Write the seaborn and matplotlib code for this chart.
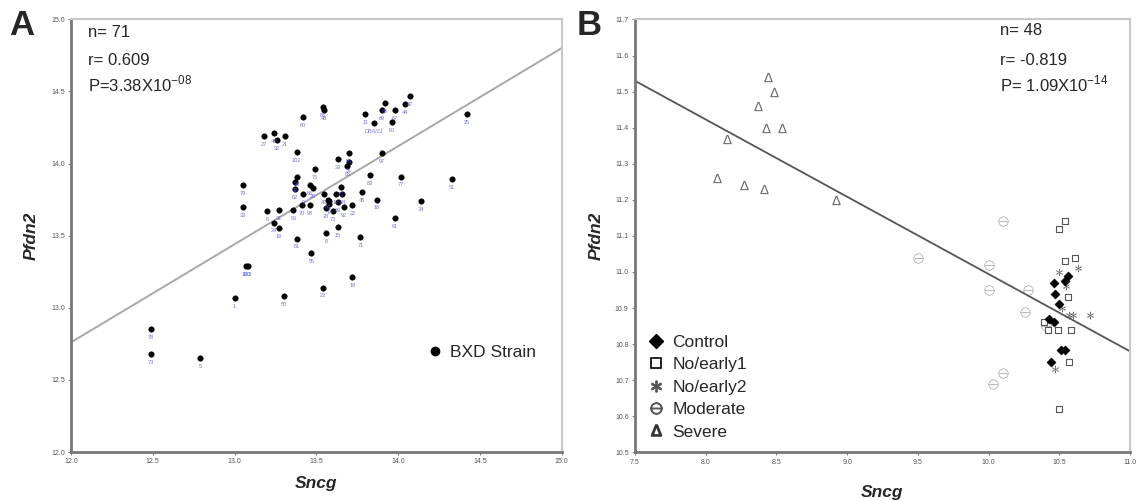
import numpy as np
import pandas as pd
import matplotlib
matplotlib.use("Agg")
import matplotlib.pyplot as plt
from matplotlib.lines import Line2D
import seaborn as sns

sns.set_theme(style="white")
plt.rcParams['font.family'] = ['Liberation Sans', 'DejaVu Sans']
plt.rcParams['mathtext.fontset'] = 'custom'
plt.rcParams['mathtext.rm'] = 'Liberation Sans'

# ---------------- Panel A data ----------------
a_sncg = [14.07, 14.42, 13.92, 14.04, 13.90, 13.98, 13.80, 13.85, 13.96, 13.54,
          13.55, 13.42, 13.18, 13.24, 13.26, 13.31, 13.38, 13.63, 13.70, 13.70,
          13.69, 13.90, 13.49, 13.83, 14.02, 14.33, 13.05, 13.38, 13.37, 13.37,
          13.42, 13.46, 13.48, 13.65, 13.55, 13.57, 13.62, 13.66, 13.58, 13.56,
          13.63, 13.67, 13.72, 13.78, 13.87, 14.14, 13.46, 13.41, 13.36, 13.05,
          13.20, 13.27, 13.24, 13.27, 13.98, 13.63, 13.56, 13.38, 13.77, 13.47,
          13.07, 13.08, 13.00, 13.30, 13.54, 13.72, 12.49, 12.49, 12.79, 13.58,
          13.60]
a_pfdn2 = [14.47, 14.34, 14.42, 14.41, 14.37, 14.37, 14.34, 14.28, 14.29, 14.39,
           14.37, 14.32, 14.19, 14.21, 14.16, 14.19, 14.08, 14.03, 14.07, 14.01,
           13.98, 14.07, 13.96, 13.92, 13.91, 13.89, 13.85, 13.91, 13.87, 13.82,
           13.79, 13.85, 13.83, 13.84, 13.79, 13.75, 13.79, 13.79, 13.72, 13.69,
           13.73, 13.70, 13.71, 13.80, 13.75, 13.74, 13.71, 13.71, 13.68, 13.70,
           13.67, 13.68, 13.59, 13.55, 13.62, 13.56, 13.52, 13.48, 13.49, 13.38,
           13.29, 13.29, 13.07, 13.08, 13.14, 13.21, 12.85, 12.68, 12.65, 13.74,
           13.67]
a_strain = ['87', '25', '65', '44', '69', '67', '11', 'DBA/2J', '90', '68',
            '48', '60', '27', '40', '32', '21', '102', '39', '56', '51',
            '85', '97', '75', '83', '77', '51', '79', '38', '42', '62',
            '9', '86', '29', '13', '43', '66', '12', '84', '14', '28',
            '89', '92', '22', '45', '16', '34', '98', '70', '96', '33',
            '6', '31', '24', '19', '61', '15', '8', '61', '71', '55',
            '100', '103', '1', '50', '23', '18', '78', '73', '5', '2',
            '73']
a_line_x = [12.0, 15.0]
a_line_y = [12.76, 14.80]

# ---------------- Panel B data ----------------
b_groups = ['Control', 'No/early1', 'No/early2', 'Moderate', 'Severe']
b_control_x = [10.46, 10.47, 10.50, 10.43, 10.46, 10.51, 10.54, 10.44, 10.56, 10.54]
b_control_y = [10.97, 10.94, 10.91, 10.87, 10.86, 10.785, 10.785, 10.75, 10.99, 10.975]
b_early1_x = [10.50, 10.54, 10.54, 10.61, 10.56, 10.39, 10.42, 10.49, 10.58, 10.57, 10.50]
b_early1_y = [11.12, 11.14, 11.03, 11.04, 10.93, 10.86, 10.84, 10.84, 10.84, 10.75, 10.62]
b_early2_x = [10.50, 10.63, 10.60, 10.72, 10.47, 10.55, 10.52, 10.57]
b_early2_y = [11.00, 11.01, 10.88, 10.88, 10.73, 10.96, 10.90, 10.88]
b_moderate_x = [9.50, 10.00, 10.00, 10.28, 10.26, 10.10, 10.03, 10.10, 10.41]
b_moderate_y = [11.04, 11.02, 10.95, 10.95, 10.89, 10.72, 10.69, 11.14, 10.85]
b_severe_x = [8.44, 8.48, 8.37, 8.43, 8.54, 8.15, 8.08, 8.27, 8.41, 8.92]
b_severe_y = [11.54, 11.50, 11.46, 11.40, 11.40, 11.37, 11.26, 11.24, 11.23, 11.20]
b_line_x = [7.5, 11.0]
b_line_y = [11.53, 10.78]

a_xticks = [12.0, 12.5, 13.0, 13.5, 14.0, 14.5, 15.0]
a_yticks = [12.0, 12.5, 13.0, 13.5, 14.0, 14.5, 15.0]
b_xticks = [7.5, 8.0, 8.5, 9.0, 9.5, 10.0, 10.5, 11.0]
b_yticks = [10.5, 10.6, 10.7, 10.8, 10.9, 11.0, 11.1, 11.2, 11.3, 11.4, 11.5, 11.6, 11.7]

fig = plt.figure(figsize=(11.41, 5.01), dpi=100)
axA = fig.add_axes([0.0622, 0.0978, 0.4300, 0.8637])
axB = fig.add_axes([0.5565, 0.0972, 0.4338, 0.8639])


def style_axes(ax, xticks, yticks):
    ax.set_xticks(xticks)
    ax.set_yticks(yticks)
    ax.set_xticklabels([f"{t:.1f}" for t in xticks])
    ax.set_yticklabels([f"{t:.1f}" for t in yticks])
    ax.tick_params(axis='both', labelsize=5, colors='#666666', length=2.5,
                   width=0.6, direction='out', pad=2, left=True, bottom=True)
    for lab in ax.get_xticklabels() + ax.get_yticklabels():
        lab.set_color('#555555')
    for s in ['left', 'bottom']:
        ax.spines[s].set_color('#777777')
        ax.spines[s].set_linewidth(2.0)
    for s in ['top', 'right']:
        ax.spines[s].set_color('#c8c8c8')
        ax.spines[s].set_linewidth(1.5)
    ax.grid(False)


# ---- Panel A ----
dfA = pd.DataFrame({'Sncg': a_sncg, 'Pfdn2': a_pfdn2, 'strain': a_strain})
sns.lineplot(x=a_line_x, y=a_line_y, ax=axA, color='#a8a8a8', linewidth=1.4)
sns.scatterplot(data=dfA, x='Sncg', y='Pfdn2', ax=axA, color='black', s=16,
                edgecolor='black', linewidth=0.3, zorder=3)
for xv, yv, lab in zip(a_sncg, a_pfdn2, a_strain):
    axA.annotate(lab, (xv, yv), xytext=(0, -6), textcoords='offset points',
                 ha='center', va='center', fontsize=4, color='#5050e0', alpha=0.8)
axA.set_xlim(12.0, 15.0)
axA.set_ylim(12.0, 15.0)
style_axes(axA, a_xticks, a_yticks)
axA.set_xlabel('Sncg', fontsize=12.5, fontweight='bold', fontstyle='italic', labelpad=8)
axA.set_ylabel('Pfdn2', fontsize=12.5, fontweight='bold', fontstyle='italic', labelpad=9)
axA.text(0.034, 0.960, 'n= 71', transform=axA.transAxes, fontsize=12, va='baseline')
axA.text(0.034, 0.894, 'r= 0.609', transform=axA.transAxes, fontsize=12, va='baseline')
axA.text(0.034, 0.834, r'P=3.38X10$^{-08}$', transform=axA.transAxes, fontsize=12, va='baseline')
hA = [Line2D([0], [0], marker='o', color='none', markerfacecolor='black',
             markeredgecolor='black', markersize=6, label='BXD Strain')]
axA.legend(handles=hA, loc='center left', bbox_to_anchor=(0.728, 0.229), frameon=False,
           fontsize=12.5, handletextpad=0.45, handlelength=0.8, borderpad=0, borderaxespad=0)

# ---- Panel B ----
sns.lineplot(x=b_line_x, y=b_line_y, ax=axB, color='#555555', linewidth=1.3)
sns.scatterplot(x=b_severe_x, y=b_severe_y, ax=axB, marker=r'$\Delta$', s=45,
                color='#666666', linewidth=0, zorder=3)
sns.scatterplot(x=b_moderate_x, y=b_moderate_y, ax=axB, marker=r'$\ominus$', s=50,
                color='#666666', linewidth=0, zorder=3)
sns.scatterplot(x=b_early1_x, y=b_early1_y, ax=axB, marker='s', s=24,
                facecolor='white', edgecolor='#555555', linewidth=0.8, zorder=3)
sns.scatterplot(x=b_early2_x, y=b_early2_y, ax=axB, marker=r'$\ast$', s=30,
                color='#555555', linewidth=0, zorder=4)
sns.scatterplot(x=b_control_x, y=b_control_y, ax=axB, marker='D', s=22,
                color='black', edgecolor='black', linewidth=0.3, zorder=5)
axB.set_xlim(7.5, 11.0)
axB.set_ylim(10.5, 11.7)
style_axes(axB, b_xticks, b_yticks)
axB.set_xlabel('Sncg', fontsize=12.5, fontweight='bold', fontstyle='italic', labelpad=14)
axB.set_ylabel('Pfdn2', fontsize=12.5, fontweight='bold', fontstyle='italic', labelpad=8)
axB.text(0.737, 0.964, 'n= 48', transform=axB.transAxes, fontsize=12, va='baseline')
axB.text(0.737, 0.895, 'r= -0.819', transform=axB.transAxes, fontsize=12, va='baseline')
axB.text(0.737, 0.835, r'P= 1.09X10$^{-14}$', transform=axB.transAxes, fontsize=12, va='baseline')
hB = [Line2D([0], [0], marker='D', color='none', markerfacecolor='black',
             markeredgecolor='black', markersize=7, label=b_groups[0]),
      Line2D([0], [0], marker='s', color='none', markerfacecolor='white',
             markeredgecolor='black', markersize=7, markeredgewidth=1.2, label=b_groups[1]),
      Line2D([0], [0], marker=r'$\ast$', color='none', markerfacecolor='#555555',
             markeredgecolor='#555555', markersize=8, label=b_groups[2]),
      Line2D([0], [0], marker=r'$\ominus$', color='none', markerfacecolor='#555555',
             markeredgecolor='#555555', markersize=8, label=b_groups[3]),
      Line2D([0], [0], marker=r'$\Delta$', color='none', markerfacecolor='#333333',
             markeredgecolor='#333333', markersize=8, label=b_groups[4])]
axB.legend(handles=hB, loc='upper left', bbox_to_anchor=(0.025, 0.272), frameon=False,
           fontsize=12.5, handletextpad=0.45, handlelength=1.0, labelspacing=0.42,
           borderpad=0, borderaxespad=0)

fig.text(0.0079, 0.930, 'A', fontsize=25, fontweight='bold', va='baseline')
fig.text(0.5057, 0.930, 'B', fontsize=25, fontweight='bold', va='baseline')

fig.savefig('out.png', dpi=100)
